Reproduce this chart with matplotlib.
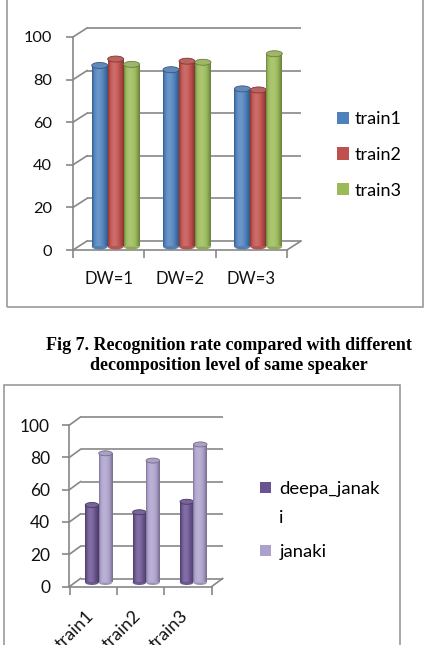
import numpy as np
import matplotlib
matplotlib.use("Agg")
import matplotlib.pyplot as plt
from matplotlib.transforms import ScaledTranslation
from matplotlib.patches import Rectangle, Ellipse, Patch

# ---------------- data ----------------
categories_top = ["DW=1", "DW=2", "DW=3"]
series_top_names = ["train1", "train2", "train3"]
train1 = [85, 83, 74]
train2 = [88, 87, 73.5]
train3 = [85.5, 86.5, 90.5]

categories_bot = ["train1", "train2", "train3"]
series_bot_names = ["deepa_janak", "i", "janaki"]
deepa_janaki = [48, 43.5, 50]
janaki = [80, 75.5, 85.5]

yticks = [0, 20, 40, 60, 80, 100]
caption = ["Fig 7. Recognition rate compared with different",
           "decomposition level of same speaker"]

# ---------------- style ----------------
W, H = 427, 645
DPI = 100
GRAY = "#878787"
FONT = "Lato"
fig = plt.figure(figsize=(W / DPI, H / DPI), dpi=DPI)
fig.patch.set_facecolor("white")


def px_rect(l, t, r, b):
    return [l / W, 1 - b / H, (r - l) / W, (b - t) / H]


def shade(color, t):
    base = np.array(matplotlib.colors.to_rgb(color))
    f = 0.68 + 0.50 * np.sin(np.pi * np.clip(t, 0, 1) ** 0.75)
    out = np.empty((len(t), 3))
    for i, fi in enumerate(f):
        if fi <= 1:
            out[i] = base * fi
        else:
            out[i] = base + (1 - base) * (fi - 1) * 0.9
    return np.clip(out, 0, 1)


def draw_chart(rect, cats, series, colors, back_px, mid_px, bar_w, ell_px, fs_y, fs_x,
               pad_y, xlab_kw):
    ax = fig.add_axes(rect)
    n = len(cats)
    ax.set_xlim(-0.5, n - 0.5)
    ax.set_ylim(0, 100)
    ax.patch.set_visible(False)
    for s in ["top", "right"]:
        ax.spines[s].set_visible(False)
    for s in ["left", "bottom"]:
        ax.spines[s].set_color(GRAY)
        ax.spines[s].set_linewidth(1.2)

    wpx = rect[2] * W
    hpx = rect[3] * H
    ppx = wpx / n
    ppy = hpx / 100.0
    dxd = back_px[0] / ppx
    dyd = back_px[1] / ppy

    tr_back = ax.transData + ScaledTranslation(back_px[0] / DPI, back_px[1] / DPI, fig.dpi_scale_trans)
    tr_mid = ax.transData + ScaledTranslation(mid_px[0] / DPI, mid_px[1] / DPI, fig.dpi_scale_trans)

    # back wall gridlines
    ax.hlines(yticks, -0.5, n - 0.5, colors=GRAY, linewidth=1.2, transform=tr_back,
              zorder=1, clip_on=False)
    # side wall diagonals
    for y in yticks:
        ax.plot([-0.5, -0.5 + dxd], [y, y + dyd], color=GRAY, lw=1.2, clip_on=False, zorder=1)
    # floor right edge
    ax.plot([n - 0.5, n - 0.5 + dxd], [0, dyd], color=GRAY, lw=1.2, clip_on=False, zorder=1)

    k = len(series)
    t = np.linspace(0, 1, 64)
    for j, (vals, col) in enumerate(zip(series, colors)):
        xs = np.arange(n) + (j - (k - 1) / 2) * bar_w
        bars = ax.bar(xs, vals, bar_w, color=col, transform=tr_mid, zorder=3 + j * 0.01,
                      linewidth=0)
        grad = shade(col, t)[None, :, :]
        for x, v, b in zip(xs, vals, bars):
            im = ax.imshow(grad, extent=(x - bar_w / 2, x + bar_w / 2, 0, v), aspect="auto",
                           transform=tr_mid, zorder=3.005 + j * 0.01, interpolation="bilinear")
            im.set_clip_path(b)
            eh = ell_px / ppy
            bot = Ellipse((x, 0), bar_w, eh, transform=tr_mid,
                          facecolor=shade(col, np.array([0.5]))[0] * 0.85, edgecolor="none",
                          zorder=2.9 + j * 0.01)
            ax.add_patch(bot)
            top = Ellipse((x, v), bar_w, eh, transform=tr_mid,
                          facecolor=shade(col, np.array([0.35]))[0] * 0.92,
                          edgecolor=shade(col, np.array([0.0]))[0], lw=0.6,
                          zorder=3.008 + j * 0.01)
            ax.add_patch(top)
    ax.set_xlim(-0.5, n - 0.5)
    ax.set_ylim(0, 100)

    ax.set_yticks(yticks)
    ax.set_yticklabels([str(v) for v in yticks], fontsize=fs_y, family=FONT, color="#111111")
    ax.tick_params(axis="y", direction="out", length=5, width=1.2, color=GRAY, pad=pad_y)
    ax.set_xticks(np.arange(n))
    ax.set_xticks(np.arange(n + 1) - 0.5, minor=True)
    ax.set_xticklabels(cats, fontsize=fs_x, family=FONT, color="#111111",
                       **xlab_kw.get("text", {}))
    ax.tick_params(axis="x", which="major", length=0, pad=xlab_kw.get("pad", 10))
    ax.tick_params(axis="x", which="minor", direction="out", length=6, width=1.2, color=GRAY)
    dx = xlab_kw.get("dx", 0)
    if dx:
        for lab in ax.get_xticklabels():
            lab.set_transform(lab.get_transform() +
                              ScaledTranslation(dx / DPI, 0, fig.dpi_scale_trans))
    return ax


# ---------------- top chart ----------------
top_colors = ["#4F81BD", "#C0504D", "#9BBB59"]
ax1 = draw_chart(px_rect(73, 37, 287, 250), categories_top, [train1, train2, train3],
                 top_colors, back_px=(14, 9), mid_px=(7, 3.5), bar_w=0.224, ell_px=6,
                 fs_y=11.8, fs_x=12, pad_y=10, xlab_kw={"pad": 15})
h1 = [Patch(facecolor=c, edgecolor="none") for c in top_colors]
fig.legend(h1, series_top_names, loc="upper left", bbox_to_anchor=(337 / W, 1 - 111 / H),
           frameon=False, handlelength=0.65, handleheight=0.65, handletextpad=0.3,
           labelspacing=1.1, borderpad=0, borderaxespad=0,
           prop={"family": FONT, "size": 13})

# top frame
fig.add_artist(Rectangle((7 / W, 1 - 307 / H), 416 / W, 320 / H, transform=fig.transFigure,
                         fill=False, edgecolor="#9A9A9A", lw=1.2))

# caption
for i, line in enumerate(caption):
    fig.text(229 / W, 1 - (349.5 + 20 * i) / H, line, ha="center", va="baseline",
             family="Liberation Serif", weight="bold", size=12.95, color="black")

# ---------------- bottom chart ----------------
bot_colors = ["#6A5391", "#ADA1CC"]
ax2 = draw_chart(px_rect(69.5, 425, 211.7, 586.5), categories_bot, [deepa_janaki, janaki],
                 bot_colors, back_px=(11, 8), mid_px=(5.5, 4), bar_w=0.285, ell_px=5,
                 fs_y=12.5, fs_x=13, pad_y=9,
                 xlab_kw={"pad": 19, "dx": -2.5,
                          "text": {"rotation": 45, "ha": "right", "va": "center",
                                   "rotation_mode": "anchor"}})
leg_a = fig.legend([Patch(facecolor=bot_colors[0], edgecolor="none"),
                    Patch(facecolor="none", edgecolor="none")],
                   series_bot_names[:2], loc="upper left",
                   bbox_to_anchor=(260 / W, 1 - 481 / H), frameon=False,
                   handlelength=0.6, handleheight=0.6, handletextpad=0.45,
                   labelspacing=0.68, borderpad=0, borderaxespad=0,
                   prop={"family": FONT, "size": 13.3})
fig.legend([Patch(facecolor=bot_colors[1], edgecolor="none")], series_bot_names[2:],
           loc="upper left", bbox_to_anchor=(260 / W, 1 - 544 / H), frameon=False,
           handlelength=0.6, handleheight=0.6, handletextpad=0.45,
           borderpad=0, borderaxespad=0, prop={"family": FONT, "size": 13.3})

fig.add_artist(Rectangle((4 / W, -0.05), 396 / W, (1 - 385 / H) + 0.05,
                         transform=fig.transFigure, fill=False, edgecolor="#9A9A9A", lw=1.2))

fig.savefig("out.png", dpi=DPI, facecolor="white")
